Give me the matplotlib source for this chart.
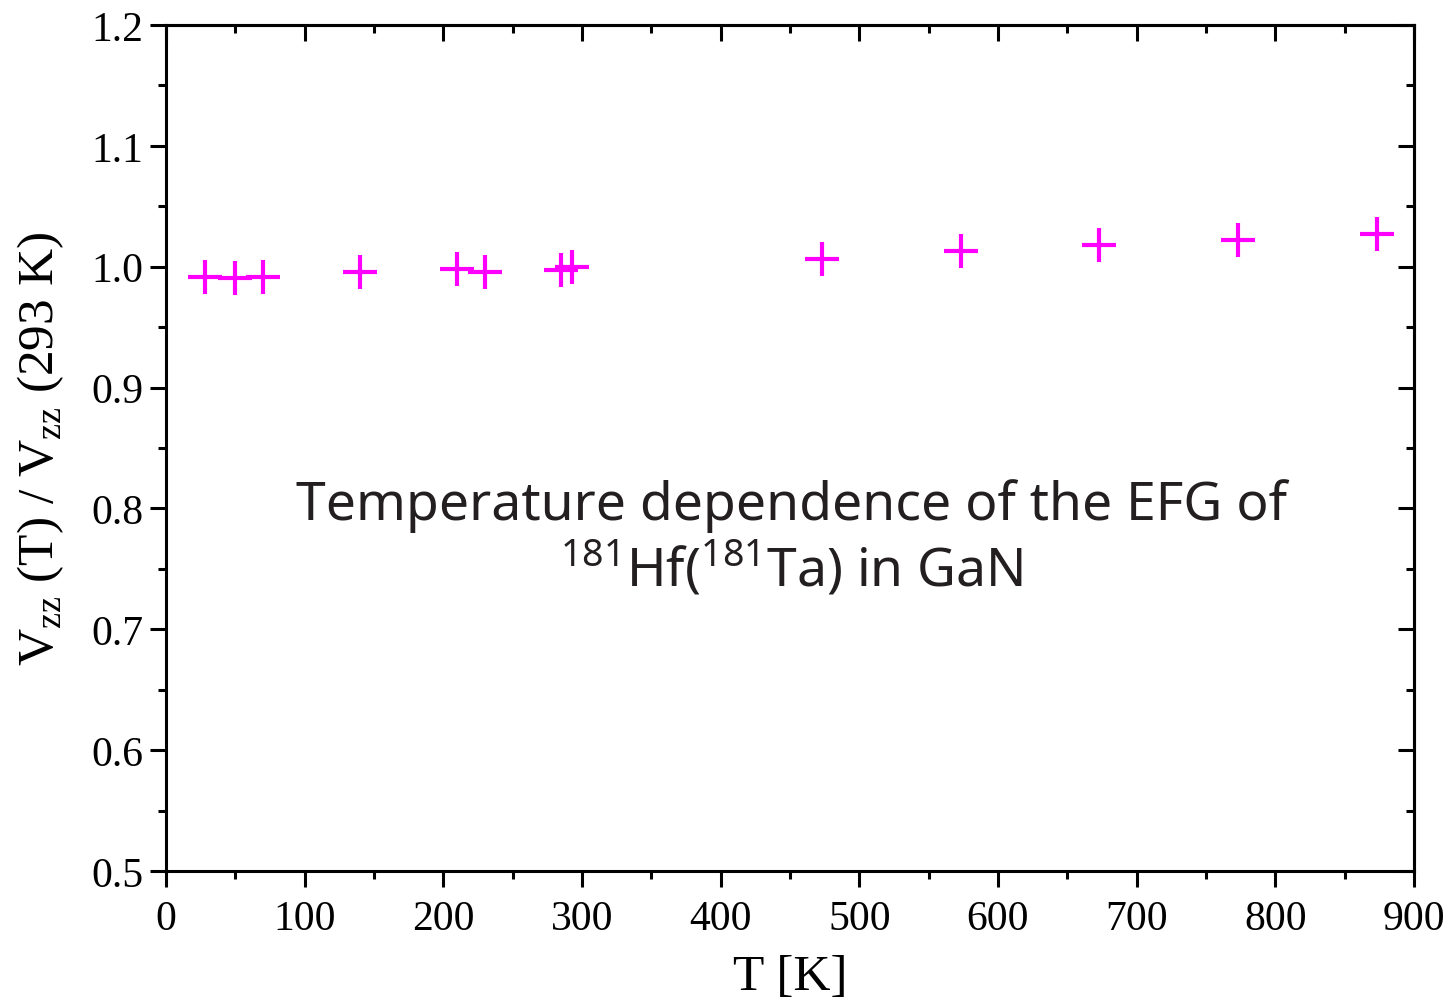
import matplotlib
matplotlib.use("Agg")
import matplotlib.pyplot as plt
from matplotlib.ticker import MultipleLocator

# Temperature [K] and normalised EFG V_zz(T)/V_zz(293 K)
temperature = [28, 50, 70, 140, 210, 230, 285, 293, 473, 573, 673, 773, 873]
efg_ratio = [0.9912, 0.9905, 0.9912, 0.9956, 0.9981, 0.9953, 0.9975, 1.0000,
             1.0065, 1.0133, 1.0183, 1.0222, 1.0268]

x_ticks = [0, 100, 200, 300, 400, 500, 600, 700, 800, 900]
y_ticks = [0.5, 0.6, 0.7, 0.8, 0.9, 1.0, 1.1, 1.2]

plt.rcParams['mathtext.fontset'] = 'custom'
plt.rcParams['mathtext.rm'] = 'Liberation Serif'
plt.rcParams['mathtext.sf'] = 'Noto Sans'

fig = plt.figure(figsize=(14.48, 10.03), dpi=100)
ax = fig.add_axes([0.1146, 0.1306, 0.8619, 0.8435])

ax.plot(temperature, efg_ratio, linestyle='none', marker='+', color='#FF00FF',
        markersize=25, markeredgewidth=3.0)

ax.set_xlim(0, 900)
ax.set_ylim(0.5, 1.2)
ax.set_xticks(x_ticks)
ax.set_yticks(y_ticks)
ax.xaxis.set_minor_locator(MultipleLocator(50))
ax.yaxis.set_minor_locator(MultipleLocator(0.05))
ax.set_xticklabels([str(v) for v in x_ticks], family='Liberation Serif', fontsize=30)
ax.set_yticklabels([f"{v:.1f}" for v in y_ticks], family='Liberation Serif', fontsize=30)

for s in ax.spines.values():
    s.set_linewidth(2.2)

ax.tick_params(which='major', direction='out', length=11.5, width=2.2)
ax.tick_params(which='minor', direction='out', length=5.8, width=2.2)
ax.tick_params(axis='x', which='major', pad=9)
ax.tick_params(axis='y', which='major', pad=5)

# inward ticks on the top and right frame
top = ax.secondary_xaxis('top')
top.set_xticks(x_ticks)
top.xaxis.set_minor_locator(MultipleLocator(50))
top.tick_params(which='major', direction='in', length=11.5, width=2.2, labeltop=False)
top.tick_params(which='minor', direction='in', length=5.8, width=2.2)
top.spines['top'].set_linewidth(2.2)

right = ax.secondary_yaxis('right')
right.set_yticks(y_ticks)
right.yaxis.set_minor_locator(MultipleLocator(0.05))
right.tick_params(which='major', direction='in', length=11.5, width=2.2, labelright=False)
right.tick_params(which='minor', direction='in', length=5.8, width=2.2)
right.spines['right'].set_linewidth(2.2)

ax.set_xlabel('T [K]', family='Liberation Serif', fontsize=37, labelpad=11)
ax.set_ylabel(r'V$_{\mathrm{zz}}$ (T) / V$_{\mathrm{zz}}$ (293 K)',
              family='Liberation Serif', fontsize=37, labelpad=18)

ax.text(451, 0.775,
        'Temperature dependence of the EFG of\n'
        r'$^{\mathsf{181}}$Hf($^{\mathsf{181}}$Ta) in GaN',
        family='Noto Sans', fontsize=38.5, color='#231F20',
        ha='center', va='center', linespacing=1.15)

fig.savefig('out.png', dpi=100)
